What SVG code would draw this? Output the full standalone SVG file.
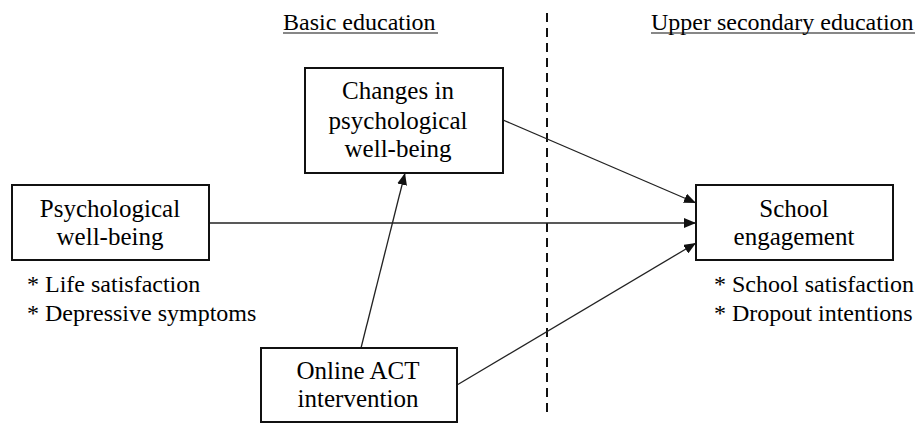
<svg xmlns="http://www.w3.org/2000/svg" width="917" height="424" viewBox="0 0 917 424">
<style>
text{font-family:"Liberation Serif","Times New Roman","DejaVu Serif",serif;font-size:24px;fill:#000}
.box{fill:#fff;stroke:#111;stroke-width:2}
.c{text-anchor:middle;font-size:25px}
.con line{stroke:#222;stroke-width:1.3}
</style>
<defs>
<marker id="ah" viewBox="0 0 12 10" refX="12" refY="5" markerWidth="12" markerHeight="10" markerUnits="userSpaceOnUse" orient="auto">
<path d="M0,0 L12,5 L0,10 z" fill="#111"/>
</marker>
</defs>
<rect width="917" height="424" fill="#fff"/>
<g id="headers">
<text x="283" y="30">Basic education</text>
<line x1="283" y1="33" x2="438" y2="33" stroke="#111" stroke-width="1.2"/>
<text x="651" y="30">Upper secondary education</text>
<line x1="651" y1="33" x2="915" y2="33" stroke="#111" stroke-width="1.2"/>
</g>
<line id="divider" x1="547" y1="13" x2="547" y2="414" stroke="#111" stroke-width="2" stroke-dasharray="9,6"/>
<g class="con" id="connectors">
<line x1="503" y1="120" x2="696" y2="203" marker-end="url(#ah)"/>
<line x1="209" y1="223" x2="696" y2="223" marker-end="url(#ah)"/>
<line x1="457" y1="385" x2="696" y2="243" marker-end="url(#ah)"/>
<line x1="361" y1="348" x2="405" y2="173" marker-end="url(#ah)"/>
</g>
<g id="changes">
<rect class="box" x="305" y="68" width="198" height="105"/>
<text class="c" x="398" y="99">Changes in</text>
<text class="c" x="398" y="129">psychological</text>
<text class="c" x="398" y="157">well-being</text>
</g>
<g id="psych">
<rect class="box" x="12" y="185" width="197" height="75"/>
<text class="c" x="110" y="217">Psychological</text>
<text class="c" x="110" y="245">well-being</text>
<text x="27" y="292">* Life satisfaction</text>
<text x="27" y="321">* Depressive symptoms</text>
</g>
<g id="school">
<rect class="box" x="696" y="185" width="197" height="75"/>
<text class="c" x="794" y="217">School</text>
<text class="c" x="794" y="245">engagement</text>
<text x="714" y="292">* School satisfaction</text>
<text x="714" y="321">* Dropout intentions</text>
</g>
<g id="online">
<rect class="box" x="261" y="348" width="196" height="74"/>
<text class="c" x="358" y="379">Online ACT</text>
<text class="c" x="358" y="407">intervention</text>
</g>
</svg>
